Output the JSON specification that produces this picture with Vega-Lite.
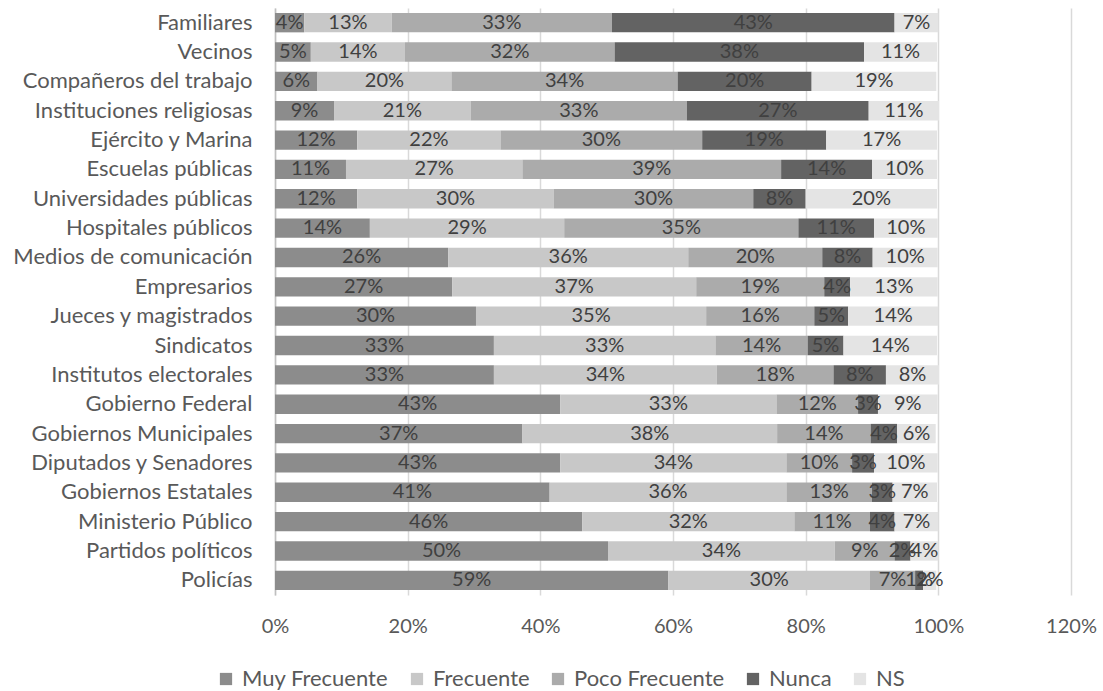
{
  "$schema": "https://vega.github.io/schema/vega-lite/v6.json",
  "width": 796,
  "height": 587,
  "autosize": {"type": "none"},
  "padding": {"left": 275, "top": 8, "right": 32, "bottom": 96},
  "background": "white",
  "config": {
    "view": {"stroke": null},
    "font": "Lato"
  },
  "data": {
    "values": [
      {"cat": "Familiares", "serie": "Muy Frecuente", "v": 0.044},
      {"cat": "Familiares", "serie": "Frecuente", "v": 0.132},
      {"cat": "Familiares", "serie": "Poco Frecuente", "v": 0.332},
      {"cat": "Familiares", "serie": "Nunca", "v": 0.426},
      {"cat": "Familiares", "serie": "NS", "v": 0.066},
      {"cat": "Vecinos", "serie": "Muy Frecuente", "v": 0.054},
      {"cat": "Vecinos", "serie": "Frecuente", "v": 0.142},
      {"cat": "Vecinos", "serie": "Poco Frecuente", "v": 0.316},
      {"cat": "Vecinos", "serie": "Nunca", "v": 0.376},
      {"cat": "Vecinos", "serie": "NS", "v": 0.11},
      {"cat": "Compañeros del trabajo", "serie": "Muy Frecuente", "v": 0.064},
      {"cat": "Compañeros del trabajo", "serie": "Frecuente", "v": 0.202},
      {"cat": "Compañeros del trabajo", "serie": "Poco Frecuente", "v": 0.341},
      {"cat": "Compañeros del trabajo", "serie": "Nunca", "v": 0.202},
      {"cat": "Compañeros del trabajo", "serie": "NS", "v": 0.188},
      {"cat": "Instituciones religiosas", "serie": "Muy Frecuente", "v": 0.089},
      {"cat": "Instituciones religiosas", "serie": "Frecuente", "v": 0.206},
      {"cat": "Instituciones religiosas", "serie": "Poco Frecuente", "v": 0.326},
      {"cat": "Instituciones religiosas", "serie": "Nunca", "v": 0.274},
      {"cat": "Instituciones religiosas", "serie": "NS", "v": 0.106},
      {"cat": "Ejército y Marina", "serie": "Muy Frecuente", "v": 0.124},
      {"cat": "Ejército y Marina", "serie": "Frecuente", "v": 0.216},
      {"cat": "Ejército y Marina", "serie": "Poco Frecuente", "v": 0.304},
      {"cat": "Ejército y Marina", "serie": "Nunca", "v": 0.187},
      {"cat": "Ejército y Marina", "serie": "NS", "v": 0.167},
      {"cat": "Escuelas públicas", "serie": "Muy Frecuente", "v": 0.107},
      {"cat": "Escuelas públicas", "serie": "Frecuente", "v": 0.266},
      {"cat": "Escuelas públicas", "serie": "Poco Frecuente", "v": 0.39},
      {"cat": "Escuelas públicas", "serie": "Nunca", "v": 0.137},
      {"cat": "Escuelas públicas", "serie": "NS", "v": 0.098},
      {"cat": "Universidades públicas", "serie": "Muy Frecuente", "v": 0.124},
      {"cat": "Universidades públicas", "serie": "Frecuente", "v": 0.296},
      {"cat": "Universidades públicas", "serie": "Poco Frecuente", "v": 0.301},
      {"cat": "Universidades públicas", "serie": "Nunca", "v": 0.079},
      {"cat": "Universidades públicas", "serie": "NS", "v": 0.198},
      {"cat": "Hospitales públicos", "serie": "Muy Frecuente", "v": 0.143},
      {"cat": "Hospitales públicos", "serie": "Frecuente", "v": 0.293},
      {"cat": "Hospitales públicos", "serie": "Poco Frecuente", "v": 0.353},
      {"cat": "Hospitales públicos", "serie": "Nunca", "v": 0.114},
      {"cat": "Hospitales públicos", "serie": "NS", "v": 0.096},
      {"cat": "Medios de comunicación", "serie": "Muy Frecuente", "v": 0.261},
      {"cat": "Medios de comunicación", "serie": "Frecuente", "v": 0.362},
      {"cat": "Medios de comunicación", "serie": "Poco Frecuente", "v": 0.202},
      {"cat": "Medios de comunicación", "serie": "Nunca", "v": 0.076},
      {"cat": "Medios de comunicación", "serie": "NS", "v": 0.098},
      {"cat": "Empresarios", "serie": "Muy Frecuente", "v": 0.267},
      {"cat": "Empresarios", "serie": "Frecuente", "v": 0.368},
      {"cat": "Empresarios", "serie": "Poco Frecuente", "v": 0.193},
      {"cat": "Empresarios", "serie": "Nunca", "v": 0.039},
      {"cat": "Empresarios", "serie": "NS", "v": 0.132},
      {"cat": "Jueces y magistrados", "serie": "Muy Frecuente", "v": 0.303},
      {"cat": "Jueces y magistrados", "serie": "Frecuente", "v": 0.347},
      {"cat": "Jueces y magistrados", "serie": "Poco Frecuente", "v": 0.163},
      {"cat": "Jueces y magistrados", "serie": "Nunca", "v": 0.051},
      {"cat": "Jueces y magistrados", "serie": "NS", "v": 0.136},
      {"cat": "Sindicatos", "serie": "Muy Frecuente", "v": 0.33},
      {"cat": "Sindicatos", "serie": "Frecuente", "v": 0.334},
      {"cat": "Sindicatos", "serie": "Poco Frecuente", "v": 0.139},
      {"cat": "Sindicatos", "serie": "Nunca", "v": 0.054},
      {"cat": "Sindicatos", "serie": "NS", "v": 0.141},
      {"cat": "Institutos electorales", "serie": "Muy Frecuente", "v": 0.33},
      {"cat": "Institutos electorales", "serie": "Frecuente", "v": 0.336},
      {"cat": "Institutos electorales", "serie": "Poco Frecuente", "v": 0.176},
      {"cat": "Institutos electorales", "serie": "Nunca", "v": 0.079},
      {"cat": "Institutos electorales", "serie": "NS", "v": 0.08},
      {"cat": "Gobierno Federal", "serie": "Muy Frecuente", "v": 0.43},
      {"cat": "Gobierno Federal", "serie": "Frecuente", "v": 0.326},
      {"cat": "Gobierno Federal", "serie": "Poco Frecuente", "v": 0.123},
      {"cat": "Gobierno Federal", "serie": "Nunca", "v": 0.03},
      {"cat": "Gobierno Federal", "serie": "NS", "v": 0.09},
      {"cat": "Gobiernos Municipales", "serie": "Muy Frecuente", "v": 0.373},
      {"cat": "Gobiernos Municipales", "serie": "Frecuente", "v": 0.384},
      {"cat": "Gobiernos Municipales", "serie": "Poco Frecuente", "v": 0.141},
      {"cat": "Gobiernos Municipales", "serie": "Nunca", "v": 0.04},
      {"cat": "Gobiernos Municipales", "serie": "NS", "v": 0.058},
      {"cat": "Diputados y Senadores", "serie": "Muy Frecuente", "v": 0.43},
      {"cat": "Diputados y Senadores", "serie": "Frecuente", "v": 0.341},
      {"cat": "Diputados y Senadores", "serie": "Poco Frecuente", "v": 0.099},
      {"cat": "Diputados y Senadores", "serie": "Nunca", "v": 0.033},
      {"cat": "Diputados y Senadores", "serie": "NS", "v": 0.096},
      {"cat": "Gobiernos Estatales", "serie": "Muy Frecuente", "v": 0.414},
      {"cat": "Gobiernos Estatales", "serie": "Frecuente", "v": 0.357},
      {"cat": "Gobiernos Estatales", "serie": "Poco Frecuente", "v": 0.129},
      {"cat": "Gobiernos Estatales", "serie": "Nunca", "v": 0.031},
      {"cat": "Gobiernos Estatales", "serie": "NS", "v": 0.067},
      {"cat": "Ministerio Público", "serie": "Muy Frecuente", "v": 0.463},
      {"cat": "Ministerio Público", "serie": "Frecuente", "v": 0.32},
      {"cat": "Ministerio Público", "serie": "Poco Frecuente", "v": 0.114},
      {"cat": "Ministerio Público", "serie": "Nunca", "v": 0.037},
      {"cat": "Ministerio Público", "serie": "NS", "v": 0.066},
      {"cat": "Partidos políticos", "serie": "Muy Frecuente", "v": 0.502},
      {"cat": "Partidos políticos", "serie": "Frecuente", "v": 0.342},
      {"cat": "Partidos políticos", "serie": "Poco Frecuente", "v": 0.09},
      {"cat": "Partidos políticos", "serie": "Nunca", "v": 0.024},
      {"cat": "Partidos políticos", "serie": "NS", "v": 0.042},
      {"cat": "Policías", "serie": "Muy Frecuente", "v": 0.593},
      {"cat": "Policías", "serie": "Frecuente", "v": 0.304},
      {"cat": "Policías", "serie": "Poco Frecuente", "v": 0.068},
      {"cat": "Policías", "serie": "Nunca", "v": 0.012},
      {"cat": "Policías", "serie": "NS", "v": 0.02}
    ]
  },
  "transform": [
    {"calculate": "indexof(['Muy Frecuente','Frecuente','Poco Frecuente','Nunca','NS'], datum.serie)", "as": "ord"},
    {"stack": "v", "groupby": ["cat"], "sort": [{"field": "ord", "order": "ascending"}], "as": ["x0", "x1"]},
    {"calculate": "(datum.x0 + datum.x1) / 2", "as": "xm"}
  ],
  "encoding": {
    "y": {
      "field": "cat",
      "type": "nominal",
      "sort": null,
      "scale": {"paddingInner": 0.34, "paddingOuter": 0.17},
      "axis": {
        "title": null,
        "ticks": false,
        "labelFontSize": 22,
        "labelColor": "#595959",
        "labelPadding": 23,
        "labelLimit": 400,
        "domainColor": "#bfbfbf",
        "domainWidth": 1.5,
        "grid": false
      }
    }
  },
  "layer": [
    {
      "mark": {"type": "bar"},
      "encoding": {
        "x": {
          "field": "x0",
          "type": "quantitative",
          "scale": {"domain": [0, 1.2], "nice": false},
          "axis": {
            "title": null,
            "format": ".0%",
            "values": [0, 0.2, 0.4, 0.6, 0.8, 1.0, 1.2],
            "domain": false,
            "ticks": false,
            "grid": true,
            "gridColor": "#d9d9d9",
            "gridWidth": 1.5,
            "labelFontSize": 20,
            "labelColor": "#595959",
            "labelPadding": 21,
            "labelFlush": false,
            "labelOverlap": false
          }
        },
        "x2": {"field": "x1"},
        "color": {
          "field": "serie",
          "type": "nominal",
          "sort": ["Muy Frecuente", "Frecuente", "Poco Frecuente", "Nunca", "NS"],
          "scale": {
            "domain": ["Muy Frecuente", "Frecuente", "Poco Frecuente", "Nunca", "NS"],
            "range": ["#8c8c8c", "#c8c8c8", "#ababab", "#636363", "#e4e4e4"]
          },
          "legend": {
            "title": null,
            "orient": "none",
            "direction": "horizontal",
            "legendX": -60,
            "legendY": 660,
            "symbolType": "square",
            "symbolSize": 150,
            "symbolStrokeWidth": 0,
            "labelFontSize": 22,
            "labelColor": "#595959",
            "labelOffset": 5,
            "columnPadding": 17
          }
        }
      }
    },
    {
      "mark": {"type": "text", "fontSize": 20, "color": "#404040"},
      "encoding": {
        "x": {"field": "xm", "type": "quantitative"},
        "text": {"field": "v", "type": "quantitative", "format": ".0%"}
      }
    }
  ]
}
